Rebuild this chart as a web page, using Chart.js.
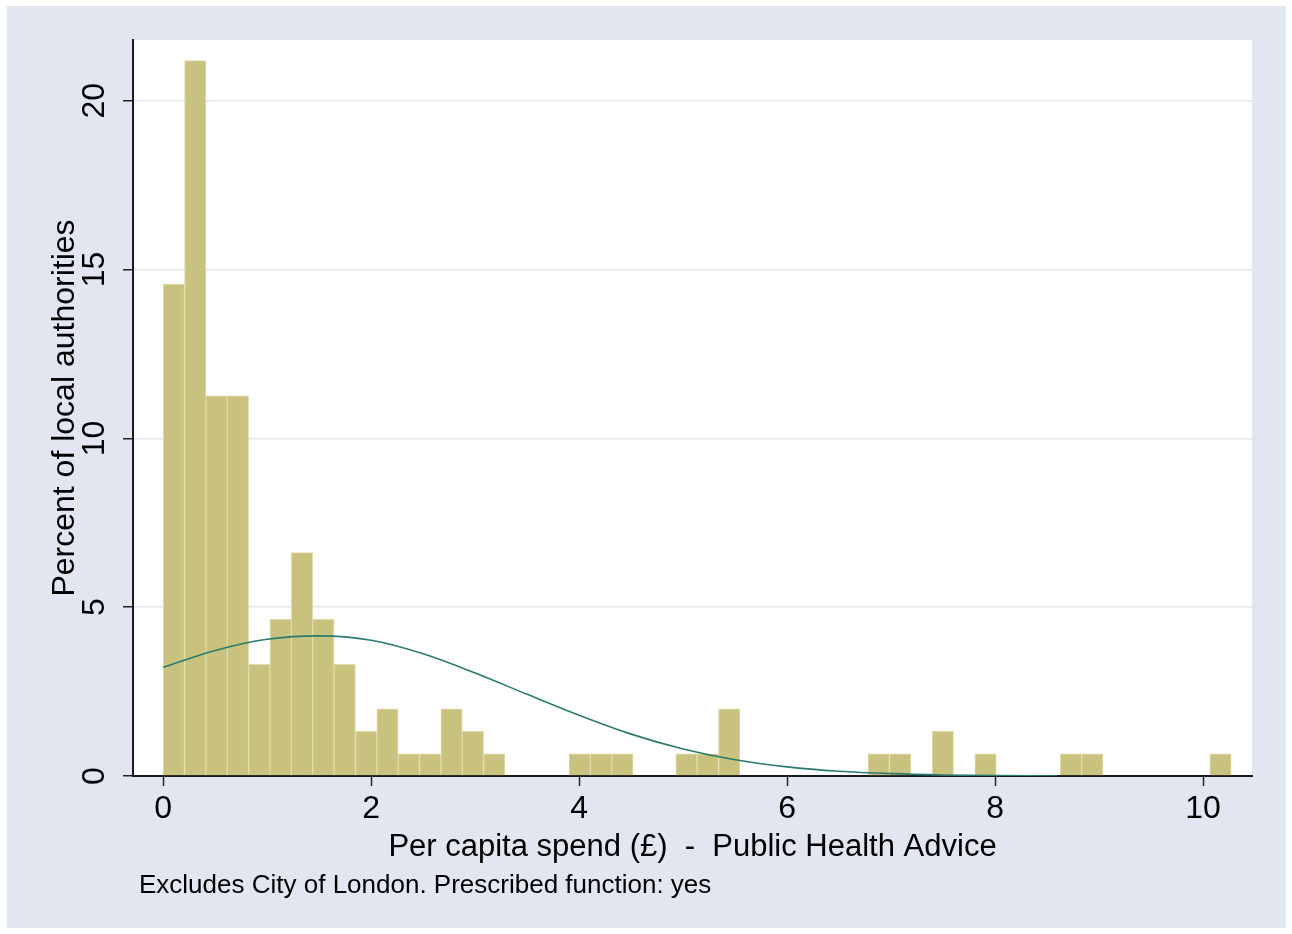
<!DOCTYPE html>
<html>
<head>
<meta charset="utf-8">
<title>Per capita spend - Public Health Advice</title>
<script src="https://cdn.jsdelivr.net/npm/chart.js@4.4.1/dist/chart.umd.min.js"></script>
<style>
  body { margin: 0; background: #fff; }
  canvas { display: block; }
</style>
</head>
<body>
<canvas id="histChart" width="1292" height="934"></canvas>
<script>
// histogram: 50 equal bins starting at 0, height = percent of authorities
const binWidth = 0.2054;
const percentPerBin = [
  14.57, 21.19, 11.26, 11.26, 3.31, 4.64, 6.62, 4.64, 3.31, 1.32,
  1.99, 0.66, 0.66, 1.99, 1.32, 0.66, 0, 0, 0, 0.66,
  0.66, 0.66, 0, 0, 0.66, 0.66, 1.99, 0, 0, 0,
  0, 0, 0, 0.66, 0.66, 0, 1.32, 0, 0.66, 0,
  0, 0, 0.66, 0.66, 0, 0, 0, 0, 0, 0.66
];

// normal density overlay, same units as the bars
const curveX = [0, 0.5, 1, 1.5, 2, 2.5, 3, 3.5, 4, 4.5, 5, 5.5, 6, 6.5, 7, 7.5, 8, 8.6];
const curveY = [3.22, 3.72, 4.05, 4.15, 4.02, 3.62, 3.05, 2.42, 1.80, 1.24, 0.80, 0.48, 0.27, 0.14, 0.07, 0.03, 0.01, 0.0];

const xTicks = [0, 2, 4, 6, 8, 10];
const yTicks = [0, 5, 10, 15, 20];

const xTitle = "Per capita spend (\u00a3)  -  Public Health Advice";
const yTitle = "Percent of local authorities";
const noteText = "Excludes City of London. Prescribed function: yes";

const FONT = "'Liberation Sans', Arial, sans-serif";

const barData = percentPerBin.map((v, i) => ({ x: (i + 0.5) * binWidth, y: v > 0 ? v : null }));
const curveData = curveX.map((x, i) => ({ x: x, y: curveY[i] }));

// page background, plot region and all the text that isn't a tick label
const stataFrame = {
  id: "stataFrame",
  beforeDraw(chart) {
    const ctx = chart.ctx;
    const a = chart.chartArea;
    ctx.save();
    ctx.fillStyle = "#ffffff";
    ctx.fillRect(0, 0, chart.width, chart.height);
    ctx.fillStyle = "#e1e6f0";
    ctx.fillRect(7, 6, 1279, 922);
    ctx.fillStyle = "#ffffff";
    ctx.fillRect(a.left, a.top, a.right - a.left, a.bottom - a.top);
    ctx.restore();
  },
  afterDraw(chart) {
    const ctx = chart.ctx;
    const a = chart.chartArea;
    const y = chart.scales.y;
    ctx.save();
    ctx.fillStyle = "#000";
    ctx.textBaseline = "alphabetic";

    // rotated y tick labels
    ctx.font = "32px " + FONT;
    ctx.textAlign = "center";
    yTicks.forEach(v => {
      ctx.save();
      ctx.translate(104, y.getPixelForValue(v));
      ctx.rotate(-Math.PI / 2);
      ctx.fillText(String(v), 0, 0);
      ctx.restore();
    });

    // y axis title
    ctx.save();
    ctx.translate(74, (a.top + a.bottom) / 2);
    ctx.rotate(-Math.PI / 2);
    ctx.fillText(yTitle, 0, 0);
    ctx.restore();

    // x axis title
    ctx.font = "31px " + FONT;
    ctx.fillText(xTitle, (a.left + a.right) / 2, 856);

    // note
    ctx.font = "26px " + FONT;
    ctx.textAlign = "left";
    ctx.fillText(noteText, 139, 893);
    ctx.restore();
  }
};

const config = {
  type: "bar",
  data: {
    datasets: [
      {
        type: "line",
        data: curveData,
        borderColor: "#2a7b6f",
        borderWidth: 1.6,
        pointRadius: 0,
        cubicInterpolationMode: "monotone",
        fill: false,
        order: 0
      },
      {
        type: "bar",
        data: barData,
        backgroundColor: "#c9c27e",
        borderColor: "#e0dcaa",
        borderWidth: 1,
        borderSkipped: "bottom",
        barPercentage: 1,
        categoryPercentage: 1,
        order: 1
      }
    ]
  },
  options: {
    responsive: false,
    animation: false,
    devicePixelRatio: 1,
    layout: {
      padding: { top: 40, right: 40, left: 0, bottom: 0 }
    },
    scales: {
      x: {
        type: "linear",
        min: -0.29,
        max: 10.47,
        offset: false,
        afterFit: s => { s.height = 158; },
        afterBuildTicks: s => { s.ticks = xTicks.map(v => ({ value: v })); },
        grid: {
          offset: false,
          drawOnChartArea: false,
          drawTicks: true,
          tickLength: 10,
          tickColor: "#222",
          tickWidth: 1.5
        },
        border: { display: true, color: "#1a1a1a", width: 2 },
        ticks: {
          color: "#000",
          padding: 4,
          maxRotation: 0,
          font: { size: 32, family: FONT }
        }
      },
      y: {
        min: 0,
        max: 21.8,
        afterFit: s => { s.width = 133; },
        afterBuildTicks: s => { s.ticks = yTicks.map(v => ({ value: v })); },
        grid: {
          color: "#e1e6f0",
          lineWidth: 1.5,
          drawTicks: true,
          tickLength: 10,
          tickColor: "#222",
          tickWidth: 1.5
        },
        border: { display: true, color: "#1a1a1a", width: 2 },
        ticks: { display: false }
      }
    },
    plugins: {
      legend: { display: false },
      tooltip: { enabled: false }
    }
  },
  plugins: [stataFrame]
};

const histChart = new Chart(document.getElementById("histChart"), config);
</script>
</body>
</html>
